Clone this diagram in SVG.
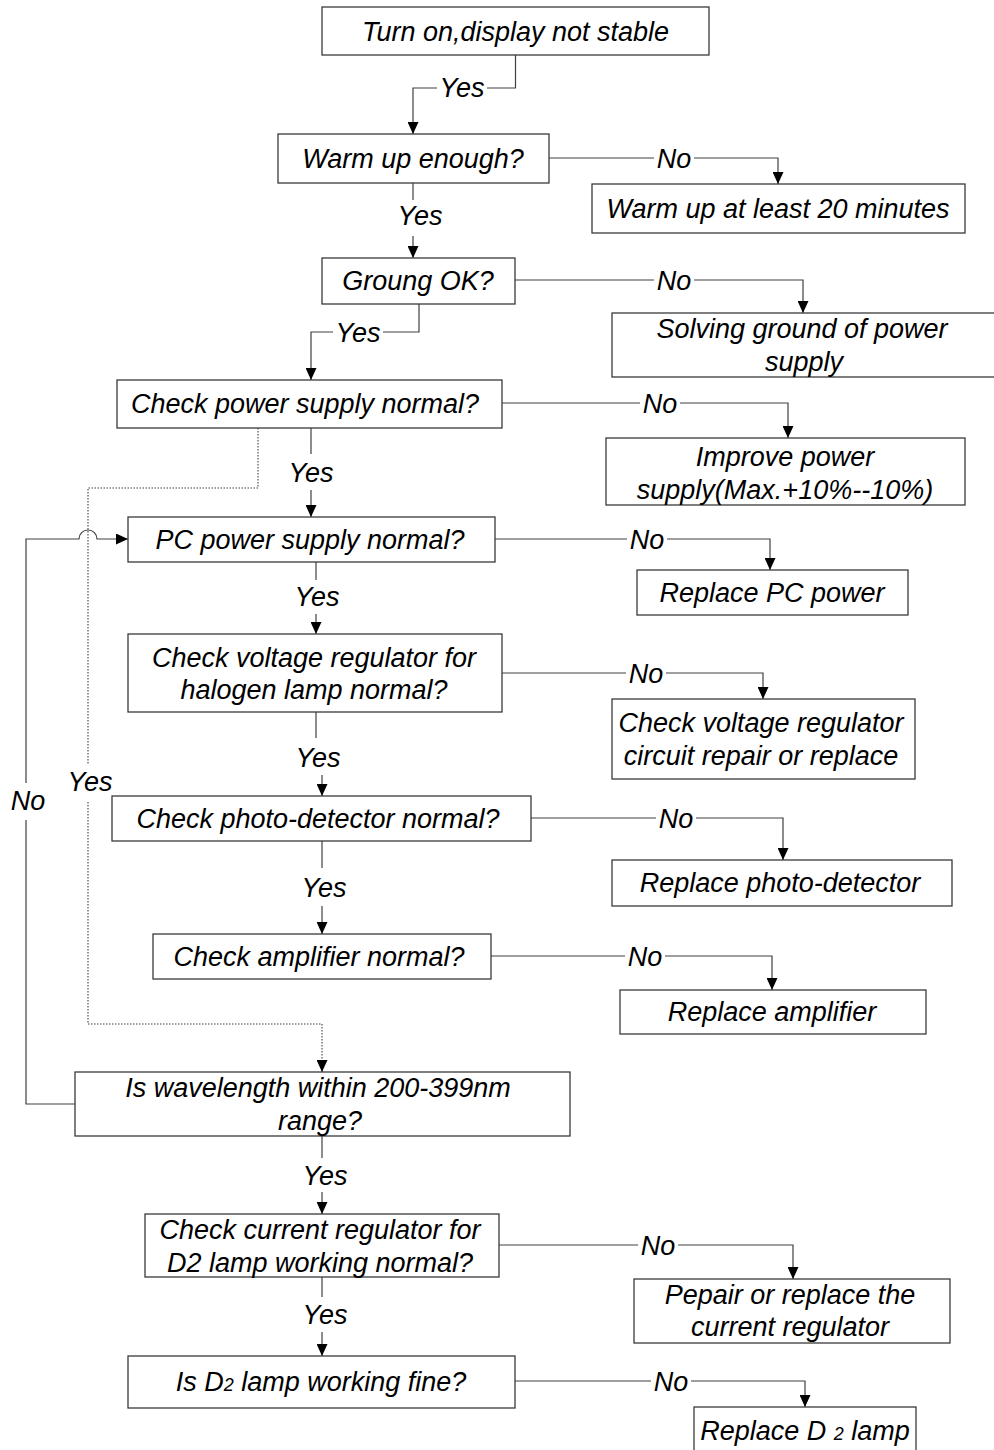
<svg xmlns="http://www.w3.org/2000/svg" width="994" height="1450" viewBox="0 0 994 1450">
  <defs>
    <marker id="arrow" markerUnits="userSpaceOnUse" markerWidth="12" markerHeight="11" refX="12" refY="5.5" orient="auto">
      <path d="M0,0 L12,5.5 L0,11 z" fill="#000"/>
    </marker>
    <style>
      .box { fill: #fff; stroke: #3a3a3a; stroke-width: 1.3; }
      .t { font-family: "Liberation Sans", Arial, sans-serif; font-style: italic; font-size: 27px; fill: #000; text-anchor: middle; }
      .ln { fill: none; stroke: #404040; stroke-width: 1.2; }
      .arr { fill: none; stroke: #404040; stroke-width: 1.2; marker-end: url(#arrow); }
      .dot { fill: none; stroke: #404040; stroke-width: 1.1; stroke-dasharray: 1.5 1.5; }
      .sub { font-size: 18px; }
    </style>
  </defs>
  <rect width="994" height="1450" fill="#fff"/>

  <!-- connectors -->
  <g id="connectors">
    <!-- start -> warm up -->
    <path class="ln" d="M515.5,55 V88 H487"/>
    <path class="arr" d="M437,88 H413 V134"/>
    <!-- warm up: yes / no -->
    <path class="ln" d="M413,183 V200"/>
    <path class="arr" d="M413,236 V258"/>
    <path class="ln" d="M549,158 H654"/>
    <path class="arr" d="M694,158 H778 V184"/>
    <!-- ground: yes / no -->
    <path class="ln" d="M419,304 V332 H383"/>
    <path class="arr" d="M333,332 H311 V380"/>
    <path class="ln" d="M515,280 H654"/>
    <path class="arr" d="M694,280 H803 V313"/>
    <!-- power supply: yes / no -->
    <path class="ln" d="M311,428 V454"/>
    <path class="arr" d="M311,490 V517"/>
    <path class="ln" d="M502,403 H640"/>
    <path class="arr" d="M680,403 H788 V438"/>
    <!-- power supply yes bypass (dotted) -->
    <path class="dot" d="M258,428 V488 H88 V765"/>
    <path class="dot" d="M88,802 V1024 H322 V1060"/>
    <path class="arr" d="M322,1060 V1072"/>
    <!-- wavelength no: loop back to PC power supply, hopping over dotted line -->
    <path class="ln" d="M75,1104 H26 V820"/>
    <path class="arr" d="M26,783 V539 H79 A9,9 0 0 1 97,539 H128"/>
    <!-- PC power: yes / no -->
    <path class="ln" d="M316,562 V580"/>
    <path class="arr" d="M316,614 V634"/>
    <path class="ln" d="M495,539 H627"/>
    <path class="arr" d="M667,539 H770 V570"/>
    <!-- voltage regulator: yes / no -->
    <path class="ln" d="M316,712 V738"/>
    <path class="arr" d="M322,775 V796"/>
    <path class="ln" d="M502,673 H626"/>
    <path class="arr" d="M666,673 H763 V699"/>
    <!-- photo-detector: yes / no -->
    <path class="ln" d="M322,841 V868"/>
    <path class="arr" d="M322,906 V934"/>
    <path class="ln" d="M531,818 H656"/>
    <path class="arr" d="M696,818 H783 V860"/>
    <!-- amplifier: no -->
    <path class="ln" d="M491,956 H625"/>
    <path class="arr" d="M665,956 H772 V990"/>
    <!-- wavelength: yes -->
    <path class="ln" d="M322,1136 V1158"/>
    <path class="arr" d="M322,1192 V1214"/>
    <!-- current regulator: yes / no -->
    <path class="ln" d="M322,1277 V1297"/>
    <path class="arr" d="M322,1332 V1356"/>
    <path class="ln" d="M499,1245 H638"/>
    <path class="arr" d="M678,1245 H793 V1279"/>
    <!-- D2 lamp: no -->
    <path class="ln" d="M515,1381 H651"/>
    <path class="arr" d="M691,1381 H805 V1407"/>

    <!-- branch labels -->
    <text class="t" x="462" y="97">Yes</text>
    <text class="t" x="420" y="225">Yes</text>
    <text class="t" x="674" y="168">No</text>
    <text class="t" x="358" y="342">Yes</text>
    <text class="t" x="674" y="290">No</text>
    <text class="t" x="311" y="482">Yes</text>
    <text class="t" x="660" y="413">No</text>
    <text class="t" x="90" y="791">Yes</text>
    <text class="t" x="28" y="810">No</text>
    <text class="t" x="317" y="606">Yes</text>
    <text class="t" x="647" y="549">No</text>
    <text class="t" x="318" y="767">Yes</text>
    <text class="t" x="646" y="683">No</text>
    <text class="t" x="324" y="897">Yes</text>
    <text class="t" x="676" y="828">No</text>
    <text class="t" x="645" y="966">No</text>
    <text class="t" x="325" y="1185">Yes</text>
    <text class="t" x="325" y="1324">Yes</text>
    <text class="t" x="658" y="1255">No</text>
    <text class="t" x="671" y="1391">No</text>
  </g>

  <!-- nodes -->
  <g id="start">
    <rect class="box" x="322" y="7" width="387" height="48"/>
    <text class="t" x="515.5" y="40.5">Turn on,display not stable</text>
  </g>
  <g id="warmup">
    <rect class="box" x="278" y="134" width="271" height="49"/>
    <text class="t" x="413" y="168">Warm up enough?</text>
  </g>
  <g id="warmup-fix">
    <rect class="box" x="592" y="184" width="373" height="49"/>
    <text class="t" x="778" y="218">Warm up at least 20 minutes</text>
  </g>
  <g id="ground">
    <rect class="box" x="322" y="258" width="193" height="46"/>
    <text class="t" x="418" y="290">Groung OK?</text>
  </g>
  <g id="ground-fix">
    <rect class="box" x="612" y="313" width="392" height="64"/>
    <text class="t" x="802" y="338">Solving ground of power</text>
    <text class="t" x="804" y="371">supply</text>
  </g>
  <g id="power">
    <rect class="box" x="117" y="380" width="385" height="48"/>
    <text class="t" x="305" y="413">Check power supply normal?</text>
  </g>
  <g id="power-fix">
    <rect class="box" x="606" y="438" width="359" height="67"/>
    <text class="t" x="785" y="466">Improve power</text>
    <text class="t" x="785" y="499">supply(Max.+10%--10%)</text>
  </g>
  <g id="pc-power">
    <rect class="box" x="128" y="517" width="367" height="45"/>
    <text class="t" x="310" y="549">PC power supply normal?</text>
  </g>
  <g id="pc-power-fix">
    <rect class="box" x="637" y="570" width="271" height="45"/>
    <text class="t" x="772" y="602">Replace PC power</text>
  </g>
  <g id="voltage">
    <rect class="box" x="128" y="634" width="374" height="78"/>
    <text class="t" x="314" y="667">Check voltage regulator for</text>
    <text class="t" x="314" y="699">halogen lamp normal?</text>
  </g>
  <g id="voltage-fix">
    <rect class="box" x="612" y="699" width="303" height="80"/>
    <text class="t" x="761" y="732">Check voltage regulator</text>
    <text class="t" x="761" y="765">circuit repair or replace</text>
  </g>
  <g id="photo">
    <rect class="box" x="112" y="796" width="419" height="45"/>
    <text class="t" x="318" y="828">Check photo-detector normal?</text>
  </g>
  <g id="photo-fix">
    <rect class="box" x="612" y="860" width="340" height="46"/>
    <text class="t" x="780" y="892">Replace photo-detector</text>
  </g>
  <g id="amplifier">
    <rect class="box" x="153" y="934" width="338" height="45"/>
    <text class="t" x="319" y="966">Check amplifier normal?</text>
  </g>
  <g id="amplifier-fix">
    <rect class="box" x="620" y="990" width="306" height="44"/>
    <text class="t" x="772" y="1021">Replace amplifier</text>
  </g>
  <g id="wavelength">
    <rect class="box" x="75" y="1072" width="495" height="64"/>
    <text class="t" x="318" y="1097">Is wavelength within 200-399nm</text>
    <text class="t" x="320" y="1130">range?</text>
  </g>
  <g id="current">
    <rect class="box" x="145" y="1214" width="354" height="63"/>
    <text class="t" x="320" y="1239">Check current regulator for</text>
    <text class="t" x="320" y="1272">D2 lamp working normal?</text>
  </g>
  <g id="current-fix">
    <rect class="box" x="634" y="1279" width="316" height="64"/>
    <text class="t" x="790" y="1304">Pepair or replace the</text>
    <text class="t" x="790" y="1336">current regulator</text>
  </g>
  <g id="d2lamp">
    <rect class="box" x="128" y="1356" width="387" height="52"/>
    <text class="t" x="321" y="1391">Is D<tspan class="sub">2</tspan> lamp working fine?</text>
  </g>
  <g id="d2lamp-fix">
    <rect class="box" x="694" y="1407" width="222" height="60"/>
    <text class="t" x="805" y="1440">Replace D <tspan class="sub">2</tspan> lamp</text>
  </g>
</svg>
